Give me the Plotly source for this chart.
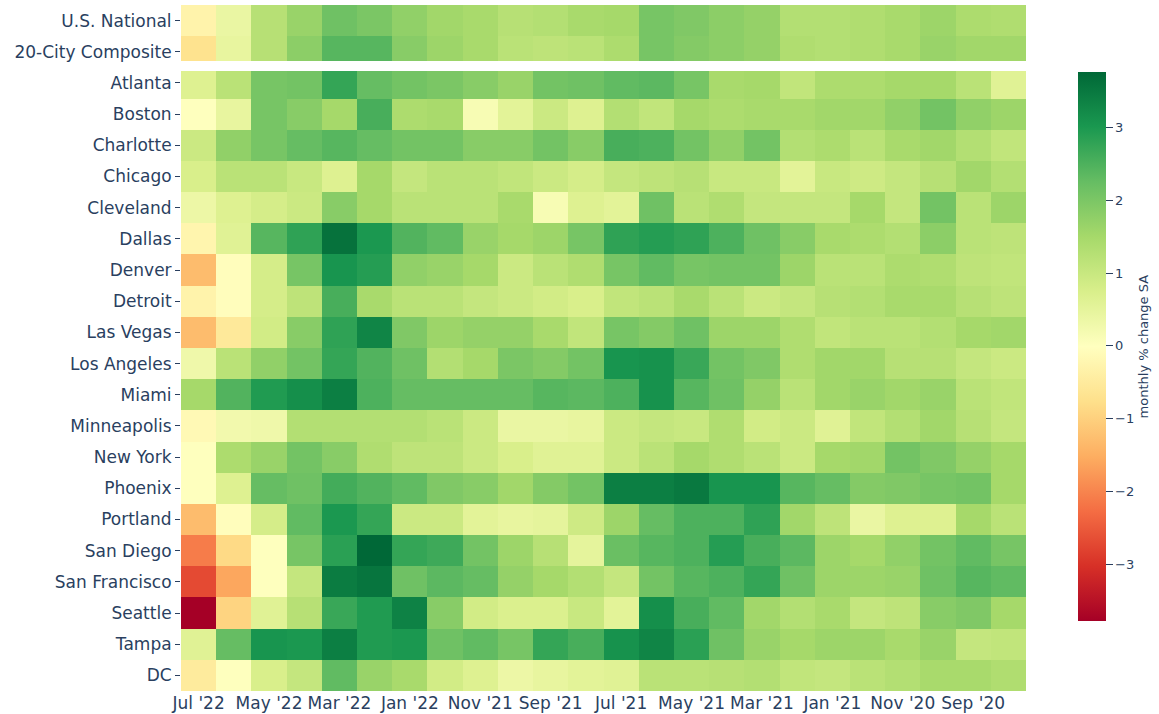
import plotly.graph_objects as go

months = ["Jul '22", "Jun '22", "May '22", "Apr '22", "Mar '22", "Feb '22", "Jan '22",
          "Dec '21", "Nov '21", "Oct '21", "Sep '21", "Aug '21", "Jul '21", "Jun '21",
          "May '21", "Apr '21", "Mar '21", "Feb '21", "Jan '21", "Dec '20", "Nov '20",
          "Oct '20", "Sep '20", "Aug '20"]

regions = ["U.S. National", "20-City Composite", "Atlanta", "Boston", "Charlotte", "Chicago",
           "Cleveland", "Dallas", "Denver", "Detroit", "Las Vegas", "Los Angeles", "Miami",
           "Minneapolis", "New York", "Phoenix", "Portland", "San Diego", "San Francisco",
           "Seattle", "Tampa", "DC"]

us_national = [-0.3, 0.4, 1.25, 1.65, 2.15, 2.0, 1.75, 1.55, 1.45, 1.25, 1.3, 1.45, 1.5, 2.05, 1.95, 1.8, 1.7, 1.3, 1.3, 1.35, 1.45, 1.6, 1.4, 1.35]
composite_20 = [-0.7, 0.45, 1.25, 1.8, 2.4, 2.4, 1.85, 1.6, 1.45, 1.2, 1.15, 1.2, 1.4, 2.05, 1.9, 1.8, 1.7, 1.35, 1.3, 1.35, 1.45, 1.65, 1.55, 1.55]
atlanta = [0.65, 1.2, 2.05, 2.1, 2.75, 2.25, 2.1, 2.0, 1.85, 1.65, 2.1, 2.15, 2.3, 2.35, 2.05, 1.45, 1.5, 1.1, 1.4, 1.4, 1.5, 1.5, 1.2, 0.6]
boston = [0.0, 0.45, 2.05, 1.85, 1.5, 2.55, 1.4, 1.45, 0.15, 0.55, 0.95, 0.65, 1.3, 1.1, 1.5, 1.4, 1.45, 1.45, 1.55, 1.55, 1.75, 2.1, 1.75, 1.6]
charlotte = [0.95, 1.75, 2.05, 2.25, 2.4, 2.25, 2.1, 2.1, 1.85, 1.85, 2.1, 1.85, 2.55, 2.5, 2.1, 1.75, 2.1, 1.3, 1.4, 1.2, 1.45, 1.55, 1.3, 1.1]
chicago = [0.75, 1.2, 1.2, 1.0, 0.65, 1.5, 1.05, 1.2, 1.2, 1.1, 0.95, 0.8, 1.05, 1.15, 1.25, 1.0, 1.0, 0.55, 1.0, 0.9, 1.05, 1.25, 1.55, 1.3]
cleveland = [0.35, 0.65, 0.8, 0.95, 1.85, 1.5, 1.2, 1.2, 1.2, 1.45, 0.15, 0.65, 0.55, 2.15, 1.2, 1.35, 1.05, 1.05, 1.05, 1.5, 1.05, 2.1, 1.2, 1.6]
dallas = [-0.25, 0.6, 2.4, 2.8, 3.6, 3.0, 2.45, 2.3, 1.65, 1.5, 1.6, 2.05, 2.8, 2.9, 2.8, 2.5, 2.15, 1.85, 1.45, 1.4, 1.3, 1.8, 1.2, 1.15]
denver = [-1.3, -0.05, 0.8, 2.05, 3.05, 2.9, 1.75, 1.65, 1.5, 0.95, 1.2, 1.35, 2.05, 2.3, 2.05, 2.1, 2.1, 1.6, 1.2, 1.2, 1.4, 1.35, 1.15, 1.1]
detroit = [-0.3, -0.05, 0.8, 1.15, 2.55, 1.45, 1.2, 1.2, 1.05, 0.95, 0.85, 0.75, 1.1, 1.2, 1.45, 1.2, 0.95, 1.05, 1.25, 1.3, 1.45, 1.45, 1.25, 1.15]
las_vegas = [-1.3, -0.55, 0.85, 1.85, 2.8, 3.3, 1.95, 1.6, 1.7, 1.7, 1.45, 1.1, 2.05, 1.9, 2.15, 1.6, 1.6, 1.35, 1.1, 1.2, 1.2, 1.3, 1.5, 1.55]
los_angeles = [0.3, 1.2, 1.75, 2.1, 2.75, 2.45, 2.15, 1.3, 1.5, 2.0, 1.9, 2.1, 3.05, 3.1, 2.7, 2.1, 1.95, 1.35, 1.55, 1.55, 1.25, 1.25, 1.05, 0.95]
miami = [1.5, 2.45, 2.95, 3.15, 3.4, 2.5, 2.25, 2.25, 2.25, 2.25, 2.4, 2.35, 2.5, 3.1, 2.4, 2.15, 1.7, 1.2, 1.55, 1.65, 1.55, 1.65, 1.2, 1.1]
minneapolis = [-0.15, 0.25, 0.3, 1.3, 1.3, 1.3, 1.3, 1.2, 0.95, 0.4, 0.4, 0.45, 0.95, 1.05, 1.0, 1.35, 0.85, 0.95, 0.6, 1.1, 1.3, 1.55, 1.25, 1.05]
new_york = [0.0, 1.4, 1.65, 2.1, 1.85, 1.35, 1.15, 1.15, 0.95, 0.75, 0.6, 0.6, 0.95, 1.2, 1.5, 1.35, 1.2, 0.95, 1.5, 1.55, 2.1, 1.95, 1.7, 1.5]
phoenix = [0.0, 0.65, 2.25, 2.15, 2.6, 2.45, 2.3, 1.95, 1.85, 1.55, 1.9, 2.1, 3.4, 3.4, 3.5, 3.05, 3.05, 2.4, 2.25, 1.9, 1.95, 2.05, 2.1, 1.5]
portland = [-1.3, -0.05, 0.8, 2.3, 3.0, 2.75, 0.95, 0.95, 0.55, 0.45, 0.5, 0.9, 1.6, 2.25, 2.5, 2.5, 2.8, 1.55, 1.15, 0.4, 0.65, 0.65, 1.5, 1.2]
san_diego = [-2.1, -0.85, 0.0, 2.05, 2.85, 3.77, 2.75, 2.65, 2.1, 1.6, 1.25, 0.5, 2.2, 2.4, 2.5, 2.9, 2.55, 2.35, 1.6, 1.5, 1.75, 2.1, 2.3, 2.05]
san_francisco = [-2.7, -1.6, 0.0, 1.05, 3.45, 3.55, 2.15, 2.35, 2.25, 1.7, 1.5, 1.3, 1.05, 2.1, 2.4, 2.5, 2.75, 2.15, 1.6, 1.6, 1.65, 2.15, 2.4, 2.3]
seattle = [-3.78, -0.95, 0.6, 1.25, 2.7, 2.95, 3.35, 1.85, 0.85, 0.7, 0.7, 1.0, 0.55, 3.15, 2.55, 2.3, 1.55, 1.3, 1.45, 1.05, 1.15, 1.85, 1.95, 1.5]
tampa = [0.6, 2.25, 3.05, 3.0, 3.4, 2.95, 3.0, 2.15, 2.3, 2.05, 2.75, 2.55, 3.1, 3.3, 2.85, 2.15, 1.65, 1.5, 1.6, 1.6, 1.45, 1.65, 1.05, 1.1]
dc = [-0.5, 0.0, 0.75, 1.05, 2.3, 1.65, 1.45, 0.85, 0.65, 0.35, 0.45, 0.55, 0.6, 1.2, 1.2, 1.25, 1.3, 1.1, 1.05, 1.2, 1.3, 1.45, 1.45, 1.35]

z = [us_national, composite_20, atlanta, boston, charlotte, chicago, cleveland, dallas,
     denver, detroit, las_vegas, los_angeles, miami, minneapolis, new_york, phoenix,
     portland, san_diego, san_francisco, seattle, tampa, dc]

FONT = "DejaVu Sans"
TXT = "#2a3f5f"

fig = go.Figure(go.Heatmap(
    z=z, x=months, y=regions,
    colorscale="RdYlGn", zmin=-3.78, zmax=3.76,
    colorbar=dict(
        title=dict(text="monthly % change SA", side="right",
                   font=dict(family=FONT, size=13, color=TXT)),
        thickness=28, len=0.80, lenmode="fraction", y=0.502, yanchor="middle",
        x=1.0615, xanchor="left", xpad=0, ypad=0, outlinewidth=0,
        ticks="outside", ticklen=7, tickcolor=TXT,
        tickvals=[-3, -2, -1, 0, 1, 2, 3],
        tickfont=dict(family=FONT, size=13, color=TXT),
    ),
))

# white separator between the composites and the individual cities
fig.add_shape(type="rect", xref="paper", x0=0, x1=1, yref="y", y0=1.296, y1=1.617,
              fillcolor="white", line=dict(width=0), layer="above")

fig.update_layout(
    width=1159, height=714,
    template="plotly_white",
    paper_bgcolor="white", plot_bgcolor="white",
    margin=dict(l=181, r=133, t=5, b=23),
    font=dict(family=FONT, color=TXT),
    xaxis=dict(tickmode="array", tickvals=months[::2], ticktext=months[::2],
               tickfont=dict(family=FONT, size=17, color=TXT), ticks="",
               showgrid=False, zeroline=False, showline=False, automargin=False),
    yaxis=dict(autorange="reversed", tickfont=dict(family=FONT, size=17, color=TXT),
               ticks="outside", ticklen=5, tickcolor=TXT,
               showgrid=False, zeroline=False, showline=False, automargin=False),
)

fig.write_html("out.html", config={"displayModeBar": False},
               post_script="document.body.style.margin='0';document.body.style.overflow='hidden';")
